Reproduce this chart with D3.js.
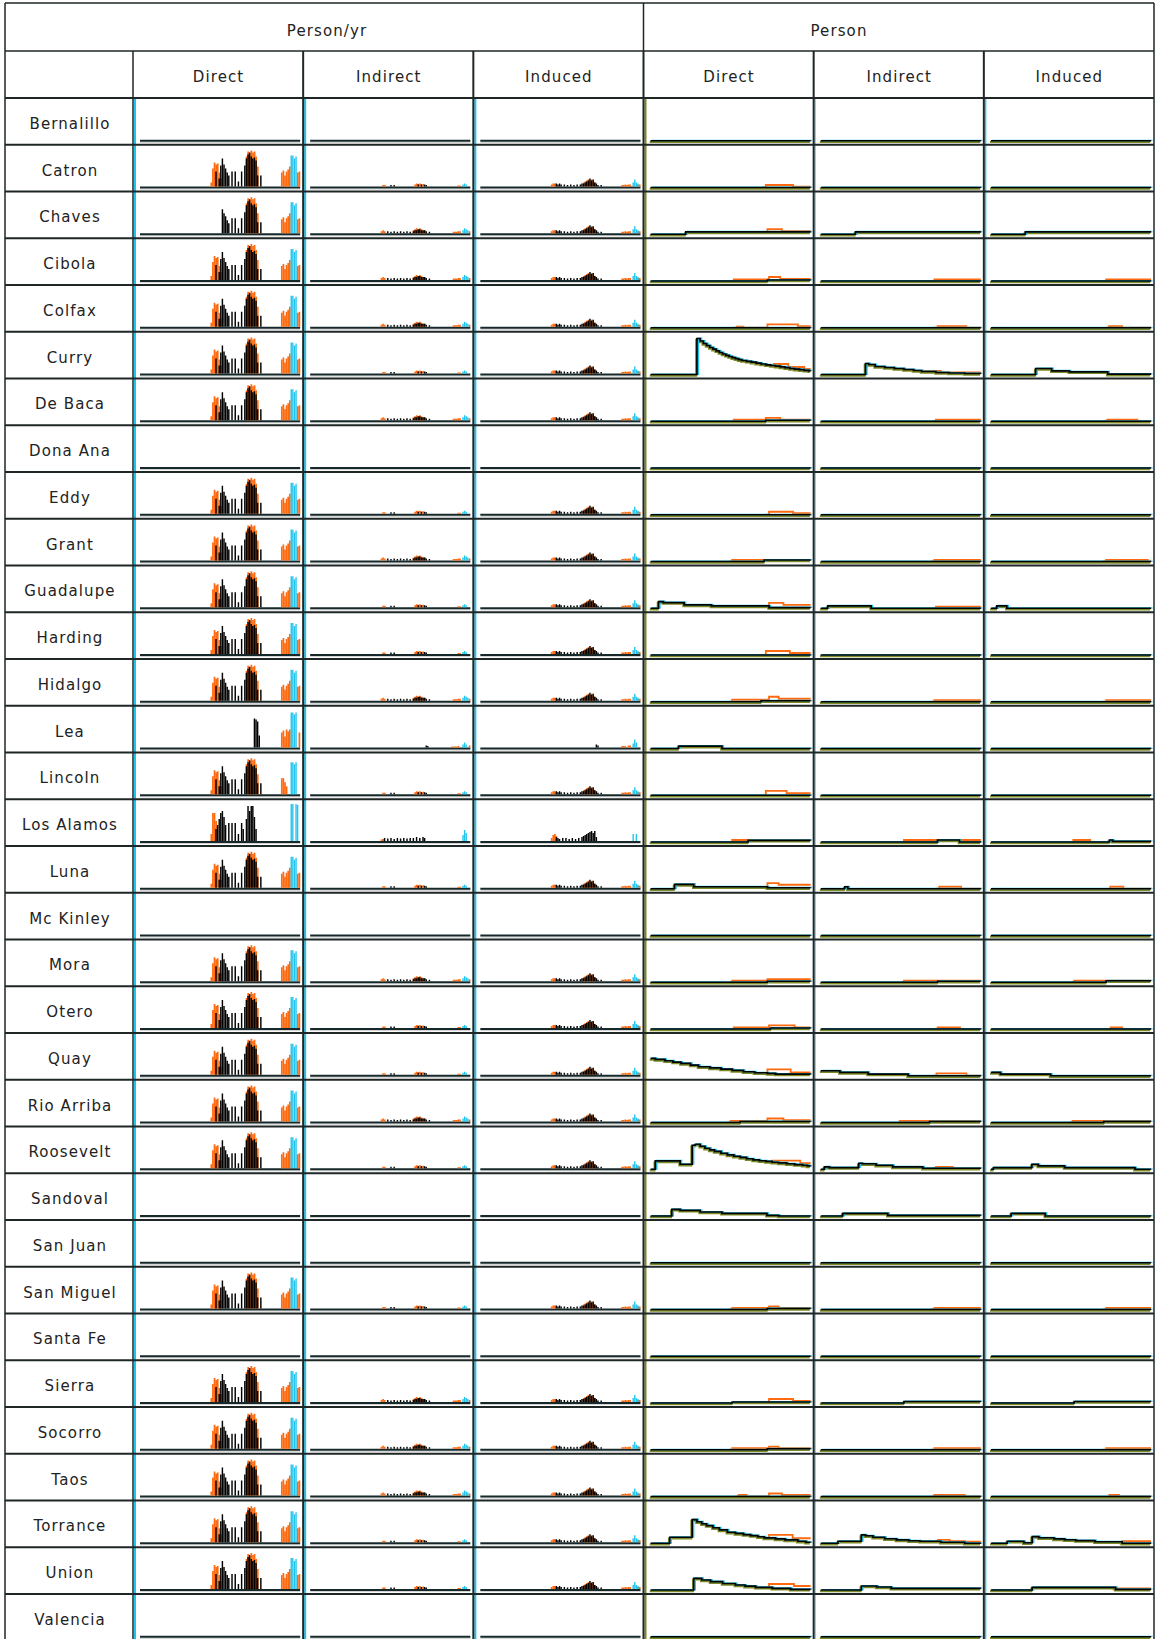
<!DOCTYPE html>
<html>
<head>
<meta charset="utf-8">
<script src="https://cdn.jsdelivr.net/npm/d3@7"></script>
<style>
  body { margin: 0; background: #fff; }
  svg { display: block; }
  text { font-family: "DejaVu Sans", Verdana, sans-serif; font-size: 15px; letter-spacing: 1.1px; fill: #222; }
</style>
</head>
<body>
<svg id="chart" width="1155" height="1639"></svg>
<script>
// ---------------------------------------------------------------------------
// Table content
// ---------------------------------------------------------------------------
const counties = ["Bernalillo","Catron","Chaves","Cibola","Colfax","Curry","De Baca","Dona Ana",
  "Eddy","Grant","Guadalupe","Harding","Hidalgo","Lea","Lincoln","Los Alamos","Luna","Mc Kinley",
  "Mora","Otero","Quay","Rio Arriba","Roosevelt","Sandoval","San Juan","San Miguel","Santa Fe",
  "Sierra","Socorro","Taos","Torrance","Union","Valencia"];
const groupLabels = ["Person/yr", "Person"];
const columnLabels = ["Direct", "Indirect", "Induced", "Direct", "Indirect", "Induced"];

// Time steps 0..100 along each sparkline. Person/yr series are [step, value] bars (value 0 elsewhere).
// Typical direct employment profile
const directOrange = [[44,4],[45,18],[46,24],[47,22],[48,23],[49,14],[50,8],[66,30],[67,35],[68,33],[69,36],[70,34],[71,35],[72,30],[73,20],[88,14],[89,16],[90,11],[91,15],[92,17],[93,20],[98,14],[99,15]];
const directBlack = [[47,15],[49,8],[50,21],[51,28],[52,22],[53,18],[54,14],[55,11],[57,15],[59,15],[61,5],[63,15],[65,21],[66,28],[67,32],[68,34],[69,30],[70,28],[71,29],[72,26],[73,11],[75,11]];
const directCyan = [[94,31],[95,31],[96,28],[97,30]];
// Chaves: no early phase
const chavesDirectOrange = [[66,30],[67,35],[68,33],[69,36],[70,34],[71,35],[72,30],[73,20],[88,14],[89,16],[90,11],[91,15],[92,17],[93,20],[98,14],[99,15]];
const chavesDirectBlack = [[51,24],[52,20],[53,17],[54,13],[55,10],[57,15],[59,15],[61,5],[63,15],[65,21],[66,28],[67,32],[68,34],[69,30],[70,28],[71,29],[72,26],[73,11],[75,11]];
// Lea
const leaDirectOrange = [[88,15],[89,17],[90,11],[91,18],[92,16],[93,18],[99,15]];
const leaDirectBlack = [[71,29],[72,28],[73,26],[74,12]];
const leaDirectCyan = [[94,35],[95,35],[96,33],[97,35]];
// Lincoln
const lincolnDirectOrange = [[44,4],[45,18],[46,24],[47,22],[48,23],[49,14],[50,8],[66,30],[67,35],[68,33],[69,36],[70,34],[71,35],[72,30],[73,20],[88,16],[89,16],[90,12],[91,8]];
const lincolnDirectCyan = [[94,32],[95,32],[96,30],[97,32]];
// Los Alamos
const losAlamosDirectOrange = [[44,7],[45,28],[46,28],[47,20]];
const losAlamosDirectBlack = [[47,12],[48,16],[49,22],[50,28],[51,30],[52,24],[53,16],[55,18],[57,18],[59,18],[61,7],[63,18],[64,12],[66,22],[67,35],[68,30],[69,35],[70,35],[71,24],[72,12]];
const losAlamosDirectCyan = [[94,37],[95,37],[97,37],[98,36]];

// Indirect employment profiles
const indirectOrange = [[45,1.5],[46,1.5],[65,2],[66,3],[67,2.5],[68,3],[69,2],[70,2.5],[92,1],[93,1]];
const indirectBlack = [[50,1.5],[52,1.5],[67,2],[69,2],[71,2],[72,1.5]];
const indirectCyan = [[95,2],[96,3],[97,2]];
const denseIndirectOrange = [[44,2],[45,3],[46,2],[64,3],[65,4],[66,5],[67,4],[68,5],[69,4],[70,3],[71,3],[89,1.5],[90,1.5],[91,1.5],[92,2],[93,2],[99,2]];
const denseIndirectBlack = [[48,2],[50,1.5],[52,2],[54,1.5],[56,2],[58,1.5],[60,2],[62,1.5],[64,2],[65,3],[66,3],[67,4],[68,4],[69,3],[70,3],[71,3],[72,2],[74,1.5]];
const denseIndirectCyan = [[95,3],[96,5],[97,4],[98,3]];
const leaIndirectOrange = [[88,1],[89,1],[90,1],[91,1],[92,1.5],[99,2]];
const leaIndirectBlack = [[72,2],[73,1.5]];
const leaIndirectCyan = [[95,3],[96,5],[97,3]];
const losAlamosIndirectOrange = [[44,1.5],[45,2]];
const losAlamosIndirectBlack = [[46,3],[48,2.5],[50,3],[52,2],[54,3],[56,2.5],[58,3],[60,2.5],[62,3],[64,3],[66,4],[68,3],[70,4],[71,3]];
const losAlamosIndirectCyan = [[95,6],[96,11],[97,8]];

// Induced employment profiles
const inducedOrange = [[44,2],[45,3],[46,3],[47,2],[64,4],[65,5],[66,6],[67,7],[68,6],[69,7],[70,5],[71,4],[88,1.5],[89,1.5],[90,2],[91,1.5],[92,2],[93,2],[98,2],[99,2]];
const inducedBlack = [[47,3],[48,2],[49,3],[50,2],[52,2],[54,1.5],[56,2],[58,1.5],[60,2],[62,2],[63,3],[64,3],[65,4],[66,5],[67,6],[68,8],[69,6],[70,7],[71,4],[72,3],[73,1.5],[75,1.5]];
const inducedCyan = [[95,4],[96,7],[97,4],[98,3]];
const leaInducedOrange = [[88,1.5],[89,1.5],[90,1.5],[92,2],[93,2]];
const leaInducedBlack = [[72,3],[73,2]];
const leaInducedCyan = [[95,4],[96,8],[97,5]];
const losAlamosInducedOrange = [[44,3],[45,6],[46,7],[47,5]];
const losAlamosInducedBlack = [[47,4],[48,3],[49,2],[51,3],[53,3],[55,2],[57,3],[59,2],[61,3],[63,4],[64,5],[65,6],[66,7],[67,8],[68,9],[69,10],[70,8],[71,10],[72,4]];
const losAlamosInducedCyan = [[95,7],[97,7]];

// Which profile each county uses, per Person/yr column
const directKind = ["none","std","chaves","std","std","std","std","none","std","std","std","std","std","lea","lincoln","losAlamos","std","none","std","std","std","std","std","none","none","std","none","std","std","std","std","std","none"];
const indirectKind = ["none","sparse","dense","dense","dense","sparse","dense","none","sparse","dense","sparse","sparse","dense","lea","sparse","losAlamos","sparse","none","dense","sparse","sparse","dense","sparse","none","none","sparse","none","dense","dense","dense","sparse","sparse","none"];
const inducedKind = ["none","std","std","std","std","std","std","none","std","std","std","std","std","lea","std","losAlamos","std","none","std","std","std","std","std","none","none","std","none","std","std","std","std","std","none"];

// Person (cumulative) series: step breakpoints [step, value]; orange given from where it departs
const personDirectBlack = [
  [[0,0]],                                   // Bernalillo
  [[0,0]],                                   // Catron
  [[0,0],[22,2.3]],                          // Chaves
  [[0,0],[73,1]],                            // Cibola
  [[0,0]],                                   // Colfax
  [[0,0],[29,36],[31,33.5],[33,31],[35,29],[37,27],[39,25.3],[41,23.7],[43,22],[45,20.5],[47,19.2],[49,18],[51,16.8],[53,15.8],[55,14.8],[57,14],[60,13.2],[63,12.4],[66,11.4],[69,10.5],[72,9.7],[75,9],[78,8.3],[81,7.6],[84,6.8],[87,6],[90,5.3],[93,4.8],[96,4.2],[99,3.7]], // Curry
  [[0,0],[72,1]],                            // De Baca
  [[0,0]],                                   // Dona Ana
  [[0,0]],                                   // Eddy
  [[0,0],[71,1.5]],                          // Grant
  [[0,0],[5,6.7],[8,5.7],[21,3.3],[38,2.3],[74,0.7]], // Guadalupe
  [[0,0]],                                   // Harding
  [[0,0],[69,1]],                            // Hidalgo
  [[0,0],[17.5,2.3],[44.6,0]],               // Lea
  [[0,0]],                                   // Lincoln
  [[0,0],[61,1.7]],                          // Los Alamos
  [[0,0],[15,4.3],[27,2],[73,1]],            // Luna
  [[0,0]],                                   // Mc Kinley
  [[0,0],[73,1]],                            // Mora
  [[0,0],[75,1]],                            // Otero
  [[0,17.3],[3,16.3],[9,15],[14,13.7],[19,12.3],[25,10.7],[30,9],[37,7.8],[44,6.7],[51,5.3],[58,4],[65,3],[73,2.3],[78,1.7]], // Quay
  [[0,0],[56,1]],                            // Rio Arriba
  [[0,0],[3,8.3],[18.5,5],[26,24],[28,25],[31,23],[34,21],[37,19.3],[40,17.8],[44,16],[48,14.3],[52,13],[56,11.8],[60,10.5],[64,9.3],[68,8.5],[72,7.8],[76,7],[80,6.3],[85,5.5],[90,4.7],[95,4],[98,3.3]], // Roosevelt
  [[0,0],[13.3,6.7],[18.5,5.7],[31,4],[44.6,2.7],[72.7,0.7],[80,0]], // Sandoval
  [[0,0]],                                   // San Juan
  [[0,0],[73,1]],                            // San Miguel
  [[0,0]],                                   // Santa Fe
  [[0,0],[51,1]],                            // Sierra
  [[0,0],[73,1]],                            // Socorro
  [[0,0]],                                   // Taos
  [[0,0],[12,6],[26,23.7],[29,21.5],[32,19.5],[35,17.7],[39,15.5],[43,13.3],[48,11],[53,9.8],[58,8.7],[62.5,7.7],[67,6.5],[71,5.3],[78,4.3],[84,3.3],[92,2],[97,1]], // Torrance
  [[0,0],[27,11.7],[32,10],[37.5,8.3],[45,6.5],[53,5],[59,3.8],[65.6,2.7],[76,1.7],[87.5,0.7]], // Union
  [[0,0]]                                    // Valencia
];
const personDirectOrange = [
  null,                                      // Bernalillo
  [[70,0],[72,2.5],[89,0.8]],                // Catron
  [[71,2.3],[73,5],[82,3]],                  // Chaves
  [[50,0],[52,1.5],[74,4],[81,2]],           // Cibola
  [[52,0],[54,1],[58,0],[73,3.3],[92,1.7]],  // Colfax
  [[75,9],[77,10.5],[86,7.5],[96,5.5]],      // Curry
  [[50,0],[52,1.5],[72,3.3],[81,1.5]],       // De Baca
  null,                                      // Dona Ana
  [[72,0],[74,3],[89,1.5]],                  // Eddy
  [[49,0],[51,1.5]],                         // Grant
  [[72,2.3],[74,5.3],[83,3.3]],              // Guadalupe
  [[70,0],[72,4],[87,2]],                    // Harding
  [[49,0],[51,2],[74,5],[80,3]],             // Hidalgo
  null,                                      // Lea
  [[70,0],[72,4.3],[85,2]],                  // Lincoln
  [[49,0],[51,2]],                           // Los Alamos
  [[71,1],[73,5.7],[80,4]],                  // Luna
  null,                                      // Mc Kinley
  [[49,0],[51,1.5],[73,3]],                  // Mora
  [[50,0],[52,1.5],[74,3.7],[90,1.7]],       // Otero
  [[71,2.3],[73,6.3],[87.5,3.3]],            // Quay
  [[48,0],[50,1.5],[73,4],[83,2.3]],         // Rio Arriba
  [[74,7],[76,8.7],[93.5,6]],                // Roosevelt
  null,                                      // Sandoval
  null,                                      // San Juan
  [[49,0],[51,1.5],[74,3],[80,1.5]],         // San Miguel
  null,                                      // Santa Fe
  [[72,1],[74,4],[89,2]],                    // Sierra
  [[49,0],[51,1.5],[74,3],[80,1.5]],         // Socorro
  [[53,0],[55,1.5],[60,0],[72,0],[74,3],[82,1.5]], // Taos
  [[72,5.3],[74,8.3],[88.75,5]],             // Torrance
  [[72,2],[74,6],[89.6,4]],                  // Union
  null                                       // Valencia
];
const personIndirectBlack = [
  [[0,0]],                                   // Bernalillo
  [[0,0]],                                   // Catron
  [[0,0],[21.7,2.3]],                        // Chaves
  [[0,0]],                                   // Cibola
  [[0,0]],                                   // Colfax
  [[0,0],[28,11],[30,10],[34,8],[40,7],[46,6],[52,5],[58,4],[63,3],[72,2],[80,1.5],[90,1]], // Curry
  [[0,0]],                                   // De Baca
  [[0,0]],                                   // Dona Ana
  [[0,0]],                                   // Eddy
  [[0,0]],                                   // Grant
  [[0,0],[4.4,2.3],[31.5,0]],                // Guadalupe
  [[0,0]],                                   // Harding
  [[0,0]],                                   // Hidalgo
  [[0,0]],                                   // Lea
  [[0,0]],                                   // Lincoln
  [[0,0],[73,2],[86.7,0]],                   // Los Alamos
  [[0,0],[15,2],[17,0]],                     // Luna
  [[0,0]],                                   // Mc Kinley
  [[0,0],[73,1]],                            // Mora
  [[0,0]],                                   // Otero
  [[0,5],[12,3.3],[29.6,1.7],[54.6,0]],      // Quay
  [[0,0],[68,1]],                            // Rio Arriba
  [[0,0],[2.3,2.3],[5.4,1.7],[23.75,6],[26,5.5],[34.6,4],[45,2.3],[63.75,1]], // Roosevelt
  [[0,0],[13.75,2.7],[41.9,0.7]],            // Sandoval
  [[0,0]],                                   // San Juan
  [[0,0]],                                   // San Miguel
  [[0,0]],                                   // Santa Fe
  [[0,0],[52,1.5]],                          // Sierra
  [[0,0]],                                   // Socorro
  [[0,0]],                                   // Taos
  [[0,0],[10.8,2],[25.4,8.3],[28,7.5],[32.7,6],[40,4.5],[47.3,3.3],[55,2.5],[61.9,2],[75,1],[90,0]], // Torrance
  [[0,0],[25.4,4],[35,3],[44,1.7]],          // Union
  [[0,0]]                                    // Valencia
];
const personIndirectOrange = [
  null,                                      // Bernalillo
  null,                                      // Catron
  null,                                      // Chaves
  [[69,0],[71,1.5]],                         // Cibola
  [[71,0],[73,1.5],[91,0]],                  // Colfax
  [[61,3],[63,3.5],[75,2]],                  // Curry
  [[70,0],[72,1.5]],                         // De Baca
  null,                                      // Dona Ana
  null,                                      // Eddy
  [[69,0],[71,1.5]],                         // Grant
  [[70,0],[72,1.5]],                         // Guadalupe
  null,                                      // Harding
  [[69,0],[71,1.5]],                         // Hidalgo
  null,                                      // Lea
  null,                                      // Lincoln
  [[50,0],[52,2],[73,2]],                    // Los Alamos
  [[72,0],[74,2],[87.7,0]],                  // Luna
  null,                                      // Mc Kinley
  [[50,0],[52,1.5]],                         // Mora
  [[71,0],[73,1.5],[87,0]],                  // Otero
  [[70,0],[72.3,2.3],[91,0]],                // Quay
  [[48,0],[49.4,1.5],[68,1.5]],              // Rio Arriba
  [[70,1],[72,2.3],[82.5,1]],                // Roosevelt
  null,                                      // Sandoval
  null,                                      // San Juan
  [[69,0],[71,1.5]],                         // San Miguel
  null,                                      // Santa Fe
  null,                                      // Sierra
  [[69,0],[71,1.5]],                         // Socorro
  [[69,0],[71,1.5],[90,0]],                  // Taos
  [[72,2],[73.3,3.3],[80.6,2],[90,1.7]],     // Torrance
  null,                                      // Union
  null                                       // Valencia
];
const personInducedBlack = [
  [[0,0]],                                   // Bernalillo
  [[0,0]],                                   // Catron
  [[0,0],[21.5,2.3]],                        // Chaves
  [[0,0]],                                   // Cibola
  [[0,0]],                                   // Colfax
  [[0,0],[28,6],[38,3.7],[49,2.7],[73,0.3]], // Curry
  [[0,0]],                                   // De Baca
  [[0,0]],                                   // Dona Ana
  [[0,0]],                                   // Eddy
  [[0,0]],                                   // Grant
  [[0,0],[3.7,2.3],[10,0]],                  // Guadalupe
  [[0,0]],                                   // Harding
  [[0,0]],                                   // Hidalgo
  [[0,0]],                                   // Lea
  [[0,0]],                                   // Lincoln
  [[0,0],[74,2],[76,0.7]],                   // Los Alamos
  [[0,0]],                                   // Luna
  [[0,0]],                                   // Mc Kinley
  [[0,0],[72,1.5]],                          // Mora
  [[0,0]],                                   // Otero
  [[0,3.3],[6,1.7],[37.3,0]],                // Quay
  [[0,0],[70.6,1]],                          // Rio Arriba
  [[0,0],[1.6,1.7],[25.6,5],[29.6,3.3],[46,1.7],[90,0]], // Roosevelt
  [[0,0],[12.7,2.7],[34,0]],                 // Sandoval
  [[0,0]],                                   // San Juan
  [[0,0]],                                   // San Miguel
  [[0,0]],                                   // Santa Fe
  [[0,0],[52,1.5]],                          // Sierra
  [[0,0]],                                   // Socorro
  [[0,0]],                                   // Taos
  [[0,0],[10.2,2],[20.6,0.5],[25.8,6.7],[30,5.5],[39.4,4.3],[46,3.5],[53,2.7],[65,1.5],[82,0]], // Torrance
  [[0,0],[25.8,2.7],[77.9,0.7]],             // Union
  [[0,0]]                                    // Valencia
];
const personInducedOrange = [
  null,                                      // Bernalillo
  null,                                      // Catron
  null,                                      // Chaves
  [[70,0],[72,1.5]],                         // Cibola
  [[72,0],[73.75,1.5],[82,0]],               // Colfax
  null,                                      // Curry
  [[71,0],[72.7,1.5],[91.5,0]],              // De Baca
  null,                                      // Dona Ana
  null,                                      // Eddy
  [[70,0],[72,1.5],[98,0]],                  // Grant
  null,                                      // Guadalupe
  null,                                      // Harding
  [[70,0],[72,1.5]],                         // Hidalgo
  null,                                      // Lea
  null,                                      // Lincoln
  [[50,0],[51.5,2],[62,0]],                  // Los Alamos
  [[73,0],[74.6,2],[82.7,0]],                // Luna
  null,                                      // Mc Kinley
  [[50,0],[52,1.5]],                         // Mora
  [[73,0],[74.8,1.5],[82,0]],                // Otero
  null,                                      // Quay
  [[49,0],[51,1.5],[70.6,1.5]],              // Rio Arriba
  null,                                      // Roosevelt
  null,                                      // Sandoval
  null,                                      // San Juan
  [[70,0],[72,1.5]],                         // San Miguel
  null,                                      // Santa Fe
  null,                                      // Sierra
  [[70,0],[72,1.5]],                         // Socorro
  [[73,0],[74,1.5],[80,0]],                  // Taos
  [[80,0],[82,2]],                           // Torrance
  [[76,0.7],[77.9,1.7]],                     // Union
  null                                       // Valencia
];

// ---------------------------------------------------------------------------
// Profile lookup tables built from the arrays above
// ---------------------------------------------------------------------------
const directProfiles = {
  std: [directOrange, directBlack, directCyan],
  chaves: [chavesDirectOrange, chavesDirectBlack, directCyan],
  lea: [leaDirectOrange, leaDirectBlack, leaDirectCyan],
  lincoln: [lincolnDirectOrange, directBlack, lincolnDirectCyan],
  losAlamos: [losAlamosDirectOrange, losAlamosDirectBlack, losAlamosDirectCyan]
};
const indirectProfiles = {
  sparse: [indirectOrange, indirectBlack, indirectCyan],
  dense: [denseIndirectOrange, denseIndirectBlack, denseIndirectCyan],
  lea: [leaIndirectOrange, leaIndirectBlack, leaIndirectCyan],
  losAlamos: [losAlamosIndirectOrange, losAlamosIndirectBlack, losAlamosIndirectCyan]
};
const inducedProfiles = {
  std: [inducedOrange, inducedBlack, inducedCyan],
  lea: [leaInducedOrange, leaInducedBlack, leaInducedCyan],
  losAlamos: [losAlamosInducedOrange, losAlamosInducedBlack, losAlamosInducedCyan]
};
const rateColumns = [
  { kinds: directKind, profiles: directProfiles },
  { kinds: indirectKind, profiles: indirectProfiles },
  { kinds: inducedKind, profiles: inducedProfiles }
];
const stockColumns = [
  { black: personDirectBlack, orange: personDirectOrange, edge: "#7a8a1e", edgeW: 2 },
  { black: personIndirectBlack, orange: personIndirectOrange, edge: "#34c6ec", edgeW: 1 },
  { black: personInducedBlack, orange: personInducedOrange, edge: "#34c6ec", edgeW: 1.5 }
];

// ---------------------------------------------------------------------------
// Layout
// ---------------------------------------------------------------------------
const ORANGE = "#ff6a10", BLACK = "#000", CYAN = "#1fc3ee", OLIVE = "#7d8a26";
const W = 1155, H = 1639;
const tblLeft = 5, tblRight = 1154, tblTop = 3;
const head1 = 51, head2 = 98, rowH = 46.75, nameRight = 133;

const svg = d3.select("#chart");

const colScale = d3.scaleBand().domain(d3.range(6)).range([nameRight, tblRight]).paddingInner(0).paddingOuter(0);
const rowScale = d3.scaleBand().domain(counties).range([head2, head2 + rowH * counties.length]).padding(0);
const valueDomain = [0, 40];

// --- sparklines ---
const cells = svg.append("g");

counties.forEach((county, ri) => {
  const rTop = rowScale(county), rBot = rTop + rowScale.bandwidth();
  const baseline = rBot - 4;

  // Person/yr columns: bar sparklines (orange behind, black spikes, cyan in front)
  rateColumns.forEach((col, ci) => {
    const cx = colScale(ci), cw = colScale.bandwidth();
    const xs = d3.scaleLinear().domain([0, 100]).range([cx + 7, cx + cw - 3]);
    const base = baseline - 1;
    const ys = d3.scaleLinear().domain(valueDomain).range([base, base - 40]);
    const g = cells.append("g");
    g.append("line").attr("x1", xs(0)).attr("x2", xs(100)).attr("y1", baseline + 1.6).attr("y2", baseline + 1.6)
      .attr("stroke", "#cfcfcf").attr("stroke-width", 1);
    g.append("line").attr("x1", xs(0)).attr("x2", xs(100)).attr("y1", baseline).attr("y2", baseline)
      .attr("stroke", "#17282b").attr("stroke-width", 2);
    const kind = col.kinds[ri];
    if (kind === "none") return;
    const [o, b, c] = col.profiles[kind];
    const bw = xs(1) - xs(0);
    [[o, ORANGE, bw + 0.1], [b, BLACK, bw * 0.9], [c, CYAN, bw * 0.85]].forEach(([series, color, w]) => {
      g.append("g").selectAll("rect").data(series).join("rect")
        .attr("x", d => xs(d[0]))
        .attr("width", w)
        .attr("y", d => ys(d[1]))
        .attr("height", d => base - ys(d[1]))
        .attr("fill", color);
    });
  });

  // Person columns: step-line sparklines
  stockColumns.forEach((col, ci) => {
    const cx = colScale(ci + 3), cw = colScale.bandwidth();
    const xs = d3.scaleLinear().domain([0, 100]).range([cx + 7, cx + cw - 3]);
    const ys = d3.scaleLinear().domain(valueDomain).range([baseline, baseline - 40]);
    const line = d3.line().x(d => xs(d[0])).y(d => ys(d[1])).curve(d3.curveStepAfter);
    const close = s => s.concat([[100, s[s.length - 1][1]]]);
    const g = cells.append("g").attr("fill", "none");
    const blackPts = close(col.black[ri]);
    if (col.orange[ri]) {
      g.append("path").attr("d", line(close(col.orange[ri]))).attr("stroke", ORANGE).attr("stroke-width", 1.8);
    }
    g.append("path").attr("d", line(blackPts)).attr("stroke", OLIVE).attr("stroke-width", 2)
      .attr("transform", "translate(-0.8,1.3)");
    g.append("path").attr("d", line(blackPts)).attr("stroke", CYAN).attr("stroke-width", 1.6)
      .attr("transform", "translate(1.4,-0.3)");
    g.append("path").attr("d", line(blackPts)).attr("stroke", BLACK).attr("stroke-width", 1.7);
  });
});

// --- axis edges at the left of each sparkline column ---
const edges = svg.append("g");
d3.range(3).forEach(ci => {
  edges.append("line").attr("x1", colScale(ci) + 2).attr("x2", colScale(ci) + 2)
    .attr("y1", head2).attr("y2", H).attr("stroke", CYAN).attr("stroke-width", 2);
});
stockColumns.forEach((col, ci) => {
  const x = colScale(ci + 3) + 1 + col.edgeW / 2;
  edges.append("line").attr("x1", x).attr("x2", x)
    .attr("y1", head2).attr("y2", H).attr("stroke", col.edge).attr("stroke-width", col.edgeW);
});

// --- grid ---
const grid = svg.append("g").attr("stroke", "#1f2626");
grid.append("line").attr("x1", tblLeft).attr("x2", tblRight).attr("y1", tblTop).attr("y2", tblTop).attr("stroke-width", 1.5);
grid.append("line").attr("x1", tblLeft).attr("x2", tblRight).attr("y1", head1).attr("y2", head1).attr("stroke-width", 1.5);
grid.append("line").attr("x1", tblLeft).attr("x2", tblLeft).attr("y1", tblTop).attr("y2", H).attr("stroke-width", 1.5);
grid.append("line").attr("x1", tblRight).attr("x2", tblRight).attr("y1", tblTop).attr("y2", H).attr("stroke-width", 1.5);
grid.append("line").attr("x1", colScale(3)).attr("x2", colScale(3)).attr("y1", tblTop).attr("y2", head1).attr("stroke-width", 1.5);
[nameRight].concat(d3.range(1, 6).map(i => colScale(i))).forEach(x => {
  grid.append("line").attr("x1", x).attr("x2", x).attr("y1", head1).attr("y2", H)
    .attr("stroke-width", x === nameRight ? 1.5 : 2);
});
grid.append("line").attr("x1", tblLeft).attr("x2", tblRight).attr("y1", head2).attr("y2", head2).attr("stroke-width", 2);
counties.forEach(c => {
  const y = rowScale(c) + rowScale.bandwidth();
  grid.append("line").attr("x1", tblLeft).attr("x2", tblRight).attr("y1", y).attr("y2", y).attr("stroke-width", 2);
});

// --- labels ---
const labels = svg.append("g").attr("text-anchor", "middle");
labels.append("text").attr("x", 327).attr("y", 31).attr("dominant-baseline", "central").text(groupLabels[0]);
labels.append("text").attr("x", 839).attr("y", 31).attr("dominant-baseline", "central").text(groupLabels[1]);
columnLabels.forEach((t, i) => {
  labels.append("text").attr("x", colScale(i) + colScale.bandwidth() / 2 + 0.5).attr("y", 77)
    .attr("dominant-baseline", "central").text(t);
});
counties.forEach(c => {
  labels.append("text").attr("x", 70).attr("y", rowScale(c) + rowScale.bandwidth() / 2 + 2.5)
    .attr("dominant-baseline", "central").text(c);
});
</script>
</body>
</html>
